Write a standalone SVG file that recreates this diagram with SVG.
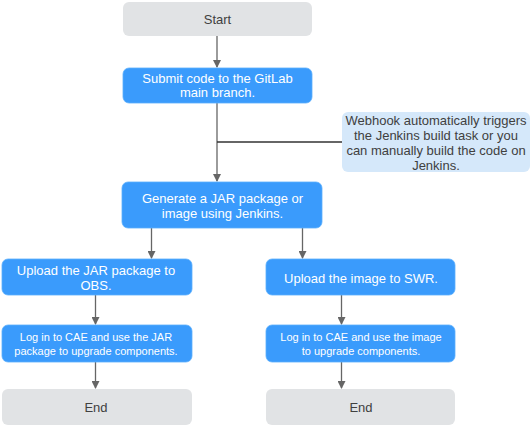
<svg xmlns="http://www.w3.org/2000/svg" width="532" height="426" viewBox="0 0 532 426">
<defs>
<marker id="ah" markerWidth="8" markerHeight="8" refX="7" refY="4" orient="auto" markerUnits="userSpaceOnUse">
<path d="M0,0 L8,4 L0,8 Z" fill="#666"/>
</marker>
<style>
text{font-family:"Liberation Sans",Arial,sans-serif;text-anchor:middle}
.g rect{fill:#e1e3e5}
.g text{fill:#404040;font-size:13px}
.b rect{fill:#3a9bfc;stroke:#5aaefc;stroke-width:0.8}
.b text{fill:#fff;font-size:13px}
.b text.s{font-size:11px}
.n rect{fill:#d5e8fa}
.n text{fill:#404040;font-size:13px}
.c line{stroke:#666;stroke-width:1.3;fill:none}
.c line.a{marker-end:url(#ah)}
</style>
</defs>
<rect width="532" height="426" fill="#fff"/>
<g class="c" id="connectors">
<line class="a" x1="217" y1="36" x2="217" y2="67"/>
<line class="a" x1="217" y1="103" x2="217" y2="181"/>
<line x1="217" y1="142" x2="342" y2="142" style="stroke:#333"/>
<line class="a" x1="151.5" y1="228" x2="151.5" y2="258"/>
<line class="a" x1="302.5" y1="228" x2="302.5" y2="258"/>
<line class="a" x1="95.5" y1="295" x2="95.5" y2="324"/>
<line class="a" x1="341.5" y1="295" x2="341.5" y2="324"/>
<line class="a" x1="95.5" y1="362" x2="95.5" y2="388"/>
<line class="a" x1="341.5" y1="362" x2="341.5" y2="388"/>
</g>
<g class="g" id="start"><rect x="123" y="2" width="189" height="34" rx="6"/><text x="217.5" y="24">Start</text></g>
<g class="b" id="submit"><rect x="123" y="68" width="189" height="35" rx="6"/><text x="217.5" y="83">Submit code to the GitLab</text><text x="217.5" y="97">main branch.</text></g>
<g class="n" id="webhook"><rect x="342" y="112" width="188" height="60" rx="6"/><text x="436" y="125">Webhook automatically triggers</text><text x="436" y="140">the Jenkins build task or you</text><text x="436" y="155">can manually build the code on</text><text x="436" y="170">Jenkins.</text></g>
<g class="b" id="generate"><rect x="122" y="182" width="200" height="46" rx="6"/><text x="222.5" y="203">Generate a JAR package or</text><text x="222.5" y="217.5">image using Jenkins.</text></g>
<g class="b" id="uploadjar"><rect x="2" y="259" width="190" height="36" rx="6"/><text x="96" y="275">Upload the JAR package to</text><text x="96" y="289.5">OBS.</text></g>
<g class="b" id="uploadswr"><rect x="266" y="259" width="189" height="36" rx="6"/><text x="361" y="283">Upload the image to SWR.</text></g>
<g class="b" id="caejar"><rect x="2" y="325" width="190" height="37" rx="6"/><text class="s" x="96" y="341">Log in to CAE and use the JAR</text><text class="s" x="96" y="355">package to upgrade components.</text></g>
<g class="b" id="caeimg"><rect x="266" y="325" width="189" height="37" rx="6"/><text class="s" x="361" y="341">Log in to CAE and use the image</text><text class="s" x="361" y="355">to upgrade components.</text></g>
<g class="g" id="end1"><rect x="2" y="389" width="190" height="36" rx="6"/><text x="96" y="412">End</text></g>
<g class="g" id="end2"><rect x="266" y="389" width="189" height="36" rx="6"/><text x="361" y="412">End</text></g>
</svg>
